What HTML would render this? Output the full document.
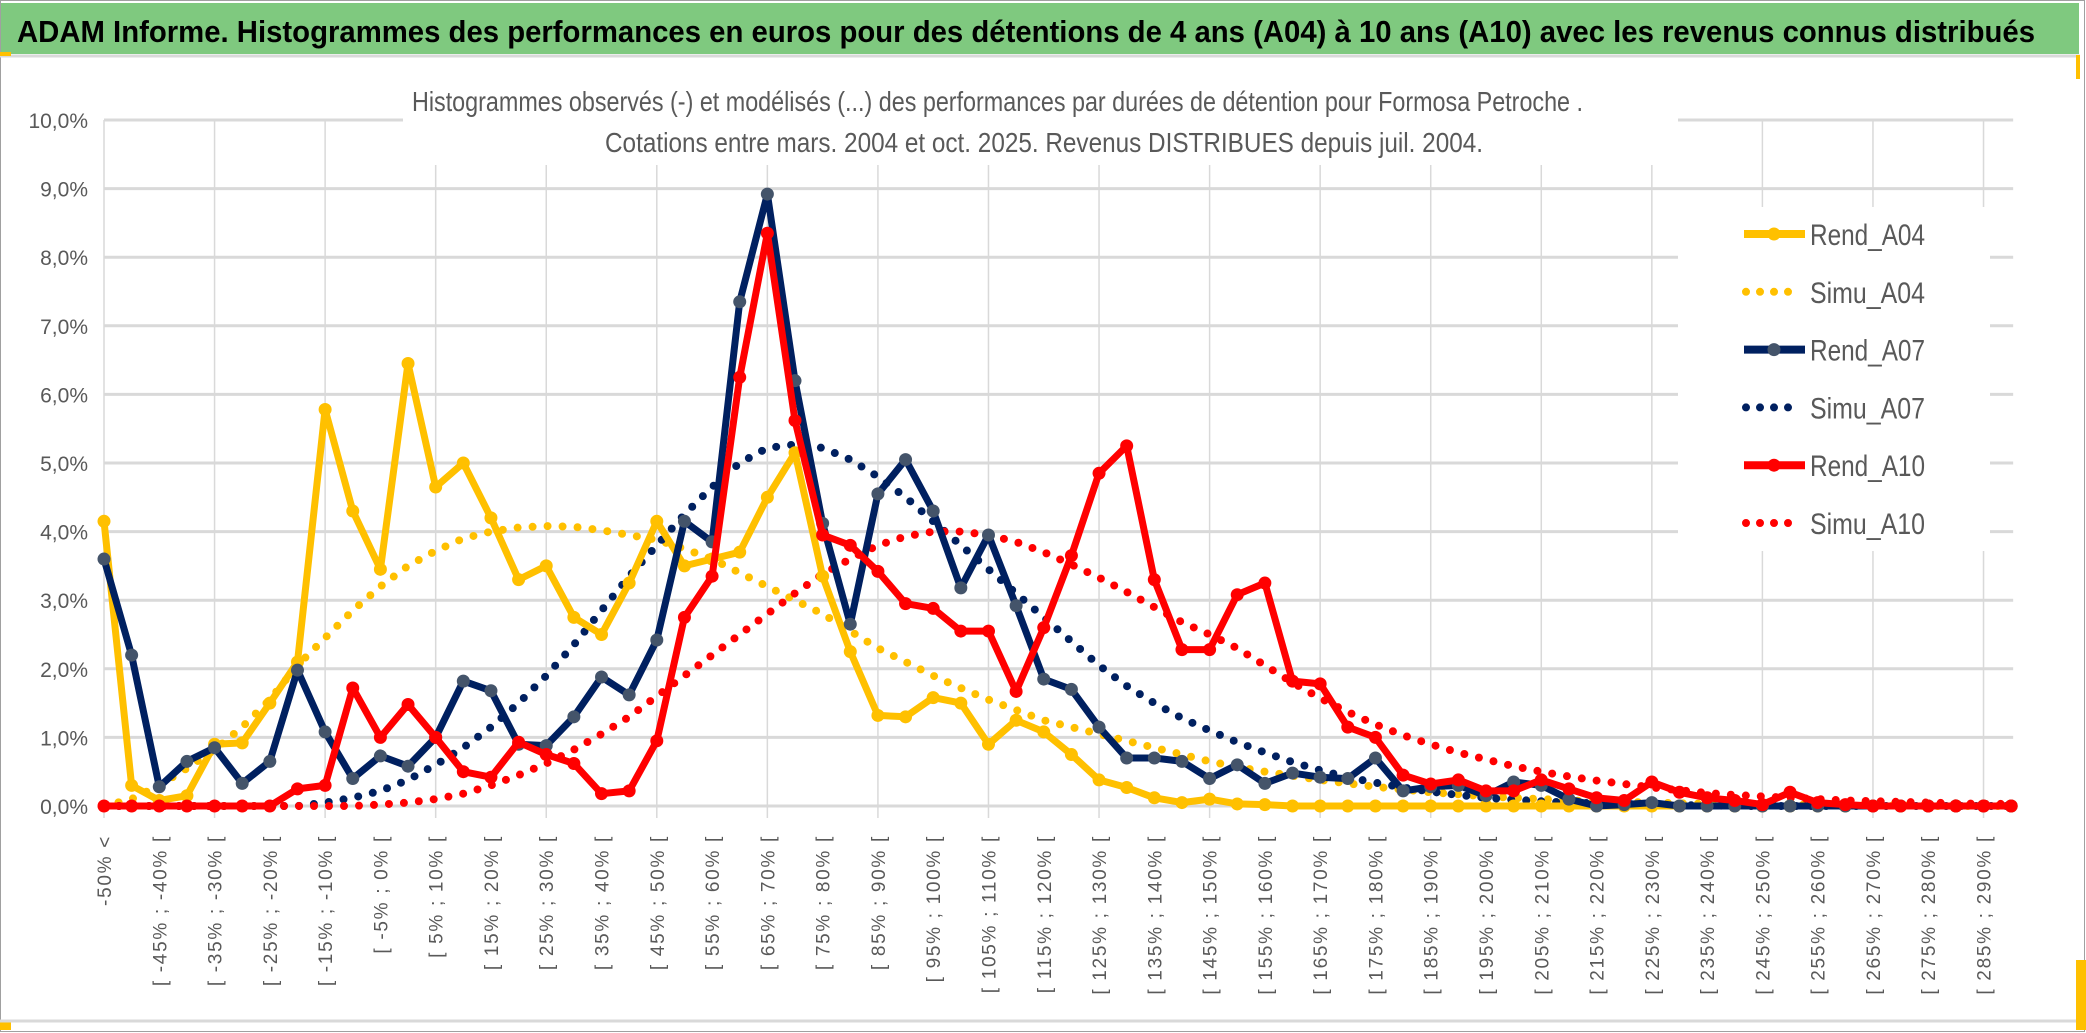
<!DOCTYPE html>
<html><head><meta charset="utf-8"><style>
html,body{margin:0;padding:0;background:#fff;}
svg{display:block;}
text{font-family:"Liberation Sans",sans-serif;}
</style></head><body>
<svg id="chart" width="2086" height="1033" viewBox="0 0 2086 1033" xmlns="http://www.w3.org/2000/svg">
<rect x="0" y="0" width="2086" height="1033" fill="#fff"/>
<rect x="0.5" y="0.5" width="2084" height="1031" fill="none" stroke="#a0a0a0" stroke-width="1"/>
<rect x="1" y="3" width="2078" height="51" fill="#7fc97f"/>
<line x1="0" y1="56" x2="2080" y2="56" stroke="#d9d9d9" stroke-width="3"/>
<rect x="0" y="52" width="11" height="4" fill="#ffc000"/>
<rect x="2076" y="55" width="4" height="24" fill="#ffc000"/>
<rect x="0" y="1020" width="11" height="10" fill="#ffc000"/>
<rect x="2076" y="960" width="10" height="70" fill="#ffc000"/>
<line x1="0" y1="1021" x2="2076" y2="1021" stroke="#d9d9d9" stroke-width="3"/>
<text x="17" y="42" font-size="31" font-weight="bold" fill="#000" textLength="2018" lengthAdjust="spacingAndGlyphs">ADAM Informe. Histogrammes des performances en euros pour des détentions de 4 ans (A04) à 10 ans (A10) avec les revenus connus distribués</text>
<g id="grid"></g>
<g id="series"></g>
<g id="xlabels"></g>
<g id="ylabels"></g>
</svg>
<script>
const categories = (function(){const c=["-50% <"];for(let k=1;k<70;k++){c.push("[ "+(-55+5*k)+"% ; "+(-50+5*k)+"% [");}return c;})();
const yTicks = [0,1,2,3,4,5,6,7,8,9,10];
const yTickLabels = ["0,0%","1,0%","2,0%","3,0%","4,0%","5,0%","6,0%","7,0%","8,0%","9,0%","10,0%"];
const rendA04 = [4.15,0.3,0.08,0.15,0.9,0.92,1.5,2.1,5.78,4.3,3.45,6.45,4.65,5.0,4.2,3.3,3.5,2.75,2.5,3.25,4.15,3.5,3.6,3.7,4.5,5.15,3.35,2.25,1.32,1.3,1.58,1.5,0.9,1.25,1.08,0.75,0.38,0.27,0.12,0.05,0.1,0.03,0.02,0,0,0,0,0,0,0,0,0,0,0,0,0,0,0,0,0,0,0,0,0,0,0,0,0,0,0];
const simuA04 = [0,0.1,0.3,0.55,0.82,1.15,1.55,2.05,2.45,2.85,3.2,3.5,3.72,3.9,4.0,4.06,4.08,4.07,4.02,3.95,3.88,3.75,3.6,3.4,3.2,3.0,2.8,2.55,2.3,2.1,1.9,1.72,1.55,1.4,1.25,1.15,1.05,0.95,0.85,0.75,0.65,0.57,0.5,0.44,0.38,0.33,0.28,0.24,0.2,0.17,0.14,0.12,0.1,0.08,0.07,0.06,0.05,0.04,0.03,0.03,0.02,0.02,0.01,0.01,0.01,0.01,0,0,0,0];
const rendA07 = [3.6,2.2,0.28,0.65,0.85,0.33,0.65,1.98,1.08,0.4,0.73,0.58,1.0,1.82,1.68,0.9,0.88,1.3,1.88,1.62,2.42,4.15,3.85,7.35,8.92,6.2,4.12,2.65,4.55,5.05,4.3,3.18,3.95,2.92,1.85,1.7,1.15,0.7,0.7,0.65,0.4,0.6,0.33,0.48,0.42,0.4,0.7,0.22,0.28,0.3,0.15,0.35,0.3,0.1,0,0.02,0.05,0,0,0,0,0,0,0,0,0,0,0,0,0];
const simuA07 = [0,0,0,0,0,0,0,0,0.05,0.12,0.22,0.38,0.6,0.85,1.15,1.5,1.9,2.35,2.85,3.35,3.8,4.25,4.65,5.0,5.22,5.27,5.22,5.05,4.8,4.5,4.15,3.8,3.45,3.1,2.75,2.4,2.05,1.75,1.5,1.28,1.1,0.93,0.78,0.64,0.52,0.42,0.34,0.27,0.21,0.16,0.12,0.09,0.07,0.05,0.04,0.03,0.02,0.01,0.01,0,0,0,0,0,0,0,0,0,0,0];
const rendA10 = [0,0,0,0,0,0,0,0.25,0.3,1.72,1.0,1.48,1.0,0.5,0.42,0.93,0.75,0.62,0.18,0.22,0.95,2.75,3.35,6.25,8.35,5.62,3.95,3.8,3.42,2.95,2.88,2.55,2.55,1.67,2.6,3.65,4.85,5.25,3.3,2.28,2.28,3.08,3.25,1.82,1.78,1.15,1.0,0.45,0.32,0.38,0.22,0.22,0.38,0.25,0.12,0.08,0.35,0.2,0.12,0.08,0.02,0.2,0.05,0.02,0,0,0,0,0,0];
const simuA10 = [0,0,0,0,0,0,0,0,0,0,0.02,0.05,0.1,0.18,0.3,0.45,0.62,0.82,1.05,1.3,1.6,1.9,2.2,2.5,2.8,3.1,3.38,3.6,3.8,3.93,4.0,4.0,3.95,3.85,3.7,3.52,3.33,3.12,2.9,2.68,2.5,2.3,2.05,1.8,1.57,1.37,1.19,1.03,0.9,0.78,0.68,0.58,0.5,0.43,0.37,0.32,0.27,0.23,0.19,0.16,0.14,0.12,0.1,0.08,0.07,0.06,0.05,0.04,0.03,0.03];

const NS="http://www.w3.org/2000/svg";
const X0=104, DX=27.64, Y0=806, Y1=120;
function xScale(i){return X0+i*DX;}
function yScale(v){return Y0-(v/10)*(Y0-Y1);}
function mk(tag,attrs,parent){const e=document.createElementNS(NS,tag);for(const k in attrs)e.setAttribute(k,attrs[k]);parent.appendChild(e);return e;}

const grid=document.getElementById('grid');
const xEnd=xScale(categories.length-1)+2;
for(let i=0;i<categories.length;i+=4){
  const l=mk('line',{x1:xScale(i),x2:xScale(i),y1:Y1,y2:Y0+12,stroke:'#d9d9d9','stroke-width':1.5},grid);
  
  
}
yTicks.forEach(function(t){
  const l=mk('line',{x1:X0,x2:xEnd,y1:yScale(t),y2:yScale(t),stroke:'#d9d9d9','stroke-width':3},grid);
  
  
});
mk('rect',{x:403,y:100,width:1275,height:65,fill:'#fff'},grid);
const t1=mk('text',{x:412,y:111,'font-size':28,fill:'#595959',textLength:1171,lengthAdjust:'spacingAndGlyphs'},grid);
t1.textContent="Histogrammes observés (-) et modélisés (...) des performances par durées de détention pour Formosa Petroche .";


const t2=mk('text',{x:605,y:152,'font-size':28,fill:'#595959',textLength:878,lengthAdjust:'spacingAndGlyphs'},grid);
t2.textContent="Cotations entre mars. 2004 et oct. 2025. Revenus DISTRIBUES depuis juil. 2004.";


const lg=mk('rect',{x:1678,y:207,width:312,height:344,fill:'#fff'},grid);



const seriesNames=["Rend_A04","Simu_A04","Rend_A07","Simu_A07","Rend_A10","Simu_A10"];
const seriesData=[rendA04,simuA04,rendA07,simuA07,rendA10,simuA10];
const colors=["#ffc000","#ffc000","#002060","#002060","#ff0000","#ff0000"];
const markerColors=["#ffc000",null,"#44546a",null,"#ff0000",null];
const sg=document.getElementById('series');
const drawOrder=[1,3,5,0,2,4];
drawOrder.forEach(function(s){
  const data=seriesData[s];
  const pts=data.map(function(v,i){return xScale(i).toFixed(1)+","+yScale(v).toFixed(1);}).join(" ");
  const g=mk('g',{},sg);
  
  
  if(markerColors[s]===null){
    const pl=mk('polyline',{points:pts,fill:'none',stroke:colors[s],'stroke-width':8,'stroke-linecap':'round','stroke-dasharray':'0 15'},g);
    
    
  } else {
    const pl=mk('polyline',{points:pts,fill:'none',stroke:colors[s],'stroke-width':7,'stroke-linejoin':'round'},g);
    
    
    data.forEach(function(v,i){
      const c=mk('circle',{cx:xScale(i),cy:yScale(v),r:6.5,fill:markerColors[s]},g);
      
      
    });
  }
});

seriesNames.forEach(function(n,s){
  const cy=234+s*57.8;
  const g=mk('g',{},grid.parentNode);
  
  
  if(markerColors[s]===null){
    mk('line',{x1:1746,x2:1802,y1:cy,y2:cy,stroke:colors[s],'stroke-width':8,'stroke-linecap':'round','stroke-dasharray':'0 14'},g);
  } else {
    mk('line',{x1:1744,x2:1805,y1:cy,y2:cy,stroke:colors[s],'stroke-width':8},g);
    mk('circle',{cx:1774,cy:cy,r:6.5,fill:markerColors[s]},g);
  }
  const tx=mk('text',{x:1810,y:cy+11,'font-size':30,fill:'#595959',textLength:115,lengthAdjust:'spacingAndGlyphs'},g);
  tx.textContent=n;
});

const yl=document.getElementById('ylabels');
yTicks.forEach(function(t,i){
  const tx=mk('text',{x:88,y:yScale(t)+8,'font-size':21,fill:'#595959','text-anchor':'end'},yl);
  tx.textContent=yTickLabels[i];
  
  
});
const xl=document.getElementById('xlabels');
for(let i=0;i<categories.length;i+=2){
  const x=xScale(i)+7, y=835;
  const tx=mk('text',{x:x,y:y,'font-size':19,fill:'#595959','text-anchor':'end','letter-spacing':'1.7',transform:'rotate(-90 '+x+' '+y+')'},xl);
  tx.textContent=categories[i];
  
  
}
</script>
</body></html>
